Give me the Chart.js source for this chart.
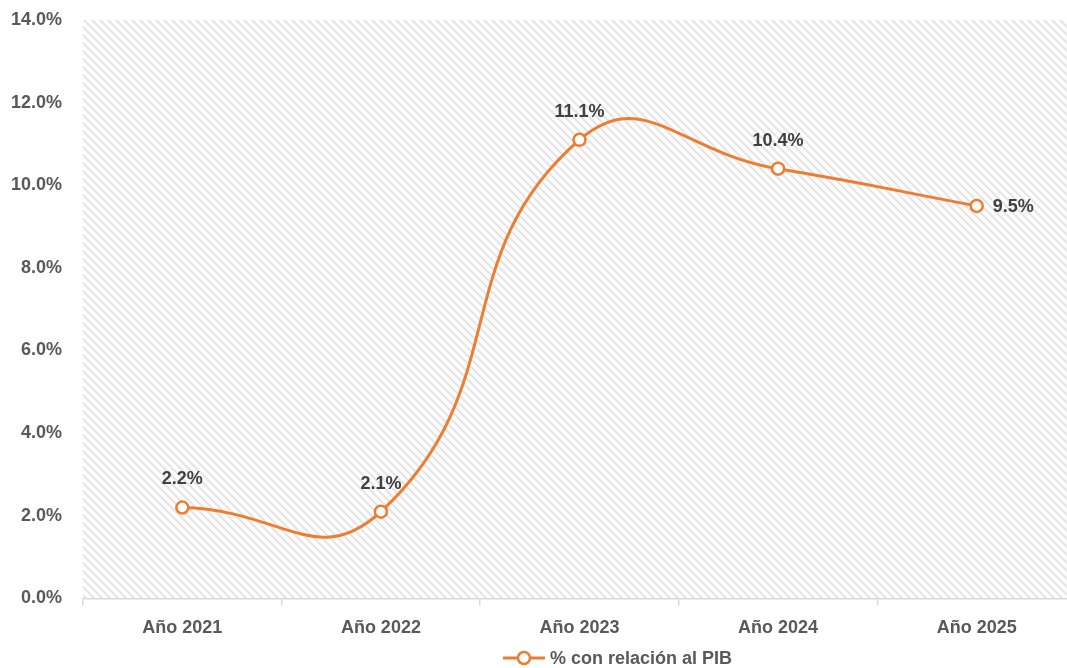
<!DOCTYPE html>
<html><head><meta charset="utf-8">
<script src="https://cdn.jsdelivr.net/npm/chart.js@4/dist/chart.umd.min.js"></script>
<style>html,body{margin:0;padding:0;background:#fff;overflow:hidden;}#wrap{width:1076px;height:668px;}</style>
</head><body><div id="wrap"><canvas id="c"></canvas></div>
<script>
const categories = ["Año 2021","Año 2022","Año 2023","Año 2024","Año 2025"];
const values = [2.2, 2.1, 11.1, 10.4, 9.5];
const seriesName = "% con relación al PIB";
const orange = "#ED7D31";
const FONT = "'Liberation Sans', Arial, sans-serif";

function makeHatch(){
  const s = 8;
  const t = document.createElement('canvas');
  t.width = s; t.height = s;
  const g = t.getContext('2d');
  g.fillStyle = '#ffffff'; g.fillRect(0,0,s,s);
  g.strokeStyle = '#e5e5e5'; g.lineWidth = 2.2;
  g.beginPath();
  g.moveTo(-s,-s); g.lineTo(2*s,2*s);
  g.moveTo(-s,0); g.lineTo(s,2*s);
  g.moveTo(0,-s); g.lineTo(2*s,s);
  g.stroke();
  return t;
}
const hatchPlugin = {
  id:'hatch',
  beforeDraw(chart){
    const {ctx, chartArea:a} = chart;
    ctx.save();
    ctx.fillStyle = ctx.createPattern(makeHatch(),'repeat');
    ctx.fillRect(a.left, a.top, a.right-a.left, a.bottom-a.top);
    ctx.restore();
  }
};
const labelPlugin = {
  id:'vlabels',
  afterDatasetsDraw(chart){
    const {ctx} = chart;
    const meta = chart.getDatasetMeta(0);
    ctx.save();
    ctx.font = "bold 18px " + FONT;
    ctx.fillStyle = '#404040';
    ctx.textBaseline = 'middle';
    meta.data.forEach((p,i)=>{
      const txt = values[i].toFixed(1)+'%';
      if(i === values.length-1){
        ctx.textAlign='left';
        ctx.fillText(txt, p.x+16, p.y+1);
      } else {
        ctx.textAlign='center';
        ctx.fillText(txt, p.x, p.y-28);
      }
    });
    ctx.restore();
  }
};
const legendPlugin = {
  id:'customLegend',
  afterDraw(chart){
    const {ctx} = chart;
    const text = seriesName;
    ctx.save();
    ctx.font = "bold 18px " + FONT;
    const tw = ctx.measureText(text).width;
    const iconW = 42, gap = 5;
    const total = iconW + gap + tw;
    const cx = (chart.chartArea.left + chart.chartArea.right)/2 + 38;
    const x0 = cx - total/2;
    const y = 658;
    ctx.strokeStyle = orange; ctx.lineWidth = 3;
    ctx.beginPath(); ctx.moveTo(x0, y); ctx.lineTo(x0+iconW, y); ctx.stroke();
    ctx.beginPath(); ctx.arc(x0+iconW/2, y, 6, 0, Math.PI*2);
    ctx.fillStyle = '#fff'; ctx.fill(); ctx.lineWidth = 2.5; ctx.stroke();
    ctx.fillStyle = '#595959'; ctx.textAlign='left'; ctx.textBaseline='middle';
    ctx.fillText(text, x0+iconW+gap, y+1);
    ctx.restore();
  }
};
new Chart(document.getElementById('c'), {
  type:'line',
  data:{labels:categories, datasets:[{
    label: seriesName, data: values,
    borderColor: orange, borderWidth: 3,
    pointBackgroundColor:'#fff', pointBorderColor: orange,
    pointBorderWidth: 2.5, pointRadius: 6, pointHoverRadius: 6,
    tension: 0.5, cubicInterpolationMode:'default',
    pointStyle: 'circle', clip: false
  }]},
  options:{
    responsive:true, maintainAspectRatio:false, animation:false,
    layout:{autoPadding:false, padding:{left:0,right:0,top:20,bottom:17}},
    plugins:{
      legend:{display:false},
      tooltip:{enabled:false}
    },
    scales:{
      x:{offset:true,
        grid:{drawOnChartArea:false, color:'#d9d9d9', tickLength:7, offset:true, lineWidth:1.5},
        border:{color:'#d9d9d9', width:1.5},
        ticks:{color:'#595959', font:{family:FONT, size:18, weight:'bold'}, padding:12}
      },
      y:{min:0, max:14,
        afterFit:(s)=>{ s.width = 83; s.paddingTop = 0; s.paddingBottom = 0; },
        grid:{display:false, drawTicks:false}, border:{display:false},
        ticks:{stepSize:2, color:'#595959', font:{family:FONT, size:18, weight:'bold'}, padding:21,
          callback:(v)=>v.toFixed(1)+'%'}
      }
    }
  },
  plugins:[hatchPlugin, labelPlugin, legendPlugin]
});
</script></body></html>
